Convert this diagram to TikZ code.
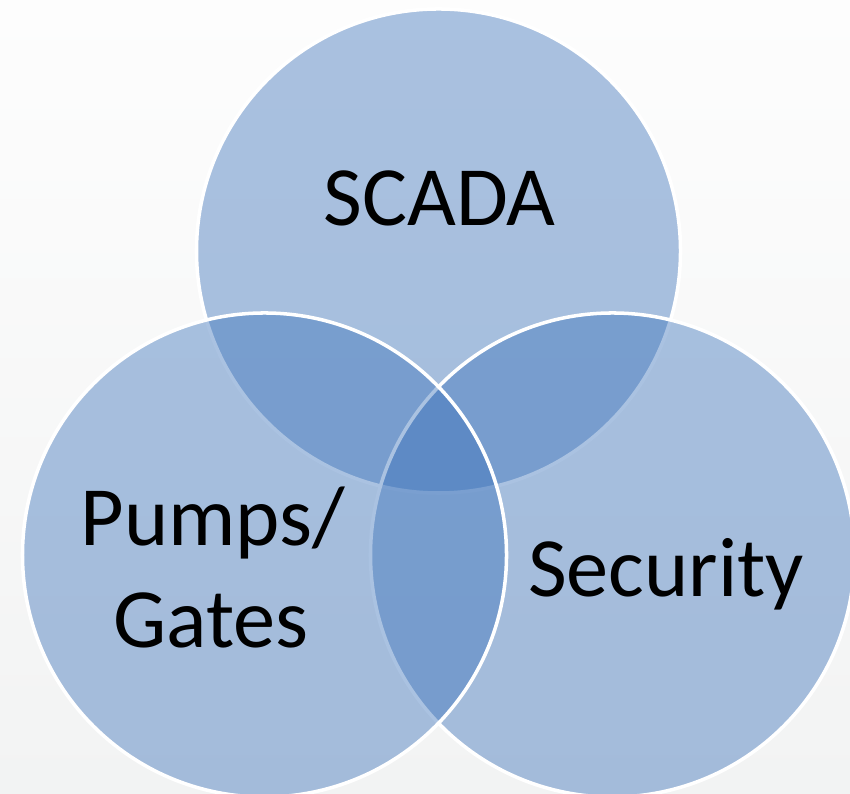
\documentclass[tikz,border=0pt]{standalone}
\usepackage{fontspec}
\setmainfont{Carlito}
\usepackage{xcolor}
\definecolor{cBlue}{RGB}{60,115,187}
\definecolor{cBackTop}{RGB}{253,253,253}
\definecolor{cBackBot}{RGB}{242,243,243}

\tikzset{
    blob/.style={circle, draw=white, line width=3pt, fill=cBlue, fill opacity=0.43,
        minimum size=14.52cm, inner sep=0pt},
    label/.style={anchor=base, font=\fontsize{72}{86}\selectfont, text=black}
}

\begin{document}
\begin{tikzpicture}[x=0.03cm, y=0.03cm]
        \useasboundingbox (0,0) rectangle (850,794);
        \fill[top color=cBackTop, bottom color=cBackBot] (0,0) rectangle (850,794);

        % three sets, top one first so the lower ones sit over it
        \node[blob] (scada) at (438.5,543) {};
        \node[blob] (security) at (612.5,239) {};
        \node[blob] (pumps) at (264.5,239) {};

        \node[label] (scadaText) at (439.5,568) {SCADA};
        \node[label] (pumpsText) at (213,248) {Pumps/};
        \node[label] (gatesText) at (211,146) {Gates};
        \node[label] (securityText) at (666,197) {Security};
    \end{tikzpicture}
\end{document}
